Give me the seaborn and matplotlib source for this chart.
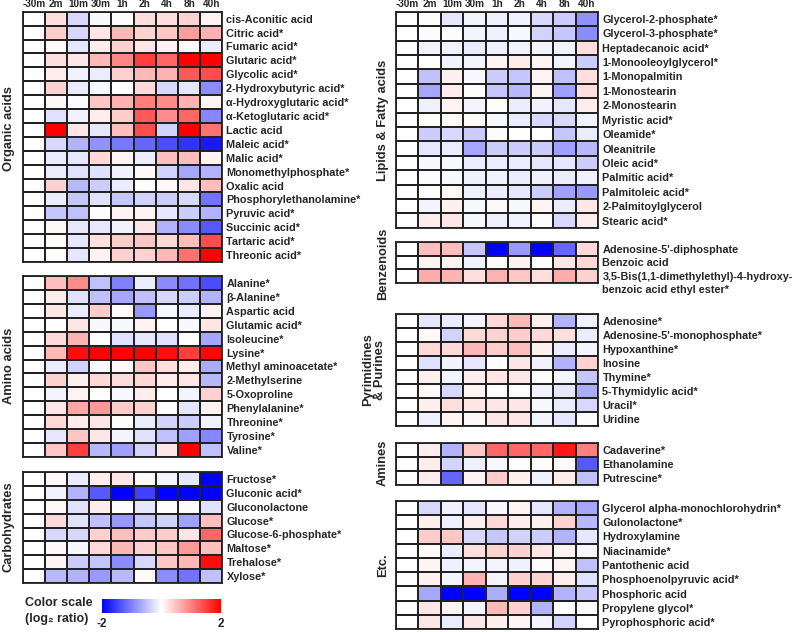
import numpy as np
import pandas as pd
import matplotlib
matplotlib.use("Agg")
import matplotlib.pyplot as plt
import seaborn as sns

# ------------------------------
# Data (log2 ratio vs -30m)
# ------------------------------
times = ["-30m", "2m", "10m", "30m", "1h", "2h", "4h", "8h", "40h"]

organic_names = ["cis-Aconitic acid", "Citric acid*", "Fumaric acid*", "Glutaric acid*", "Glycolic acid*",
                 "2-Hydroxybutyric acid*", "\u03b1-Hydroxyglutaric acid*", "\u03b1-Ketoglutaric acid*",
                 "Lactic acid", "Maleic acid*", "Malic acid*", "Monomethylphosphate*", "Oxalic acid",
                 "Phosphorylethanolamine*", "Pyruvic acid*", "Succinic acid*", "Tartaric acid*", "Threonic acid*"]
organic_vals = [
    [0, 0.25, -0.3, -0.05, 0.02, 0.25, 0.25, 0.35, 0.1],
    [0, 0.4, -0.3, 0.2, 0.55, 0.35, 0.45, 0.75, 0.6],
    [0, 0.05, -0.2, 0.15, 0.35, 0.2, 0.1, 0.05, -0.15],
    [0, 0.25, 0.2, 0.55, 0.95, 1.5, 1.2, 2.0, 2.0],
    [0, 0.15, -0.1, -0.15, 0.35, 0.55, 0.6, 1.3, 1.4],
    [0, 0.35, -0.15, -0.05, 0.0, 0.3, -0.3, -0.2, -0.9],
    [0, 0.05, -0.03, 0.45, 0.6, 1.0, 0.9, 0.6, 0.08],
    [0, -0.25, -0.1, 0.15, 0.4, 1.3, 0.9, 1.2, -0.95],
    [0, 2.0, 0.2, -0.2, 0.5, 1.4, -0.35, 2.0, 1.1],
    [0, -0.3, -0.6, -0.85, -1.05, -1.2, -1.4, -1.6, -1.8],
    [0, -0.15, -0.2, 0.3, 0.1, -0.15, 0.5, 0.5, 0.08],
    [0, -0.15, -0.25, -0.25, -0.1, 0.05, -0.35, -0.7, -0.6],
    [0, 0.35, -0.55, -0.4, -0.15, 0.02, 0.05, 0.2, 0.5],
    [0, -0.15, -0.45, -0.25, -0.45, -0.35, -0.4, -0.3, -1.1],
    [0, -0.45, -0.5, 0.02, 0.1, 0.1, -0.2, -0.4, -0.6],
    [0, 0.05, -0.2, -0.2, -0.1, 0.2, -0.6, -0.9, -1.3],
    [0, 0.02, -0.2, 0.25, 0.4, 0.45, 0.3, 0.5, 1.4],
    [0, 0.03, -0.2, 0.1, 0.35, 0.35, 0.55, 1.1, 2.0],
]

amino_names = ["Alanine*", "\u03b2-Alanine*", "Aspartic acid", "Glutamic acid*", "Isoleucine*", "Lysine*",
               "Methyl aminoacetate*", "2-Methylserine", "5-Oxoproline", "Phenylalanine*", "Threonine*",
               "Tyrosine*", "Valine*"]
amino_vals = [
    [0, 0.5, 0.9, -0.5, -1.0, -0.15, -0.9, -1.1, -1.4],
    [0, 0.15, -0.25, -0.5, -0.7, -0.5, -0.3, -0.4, -0.6],
    [0, 0.2, -0.15, 0.4, 0.05, -0.8, -0.05, -0.15, 0.1],
    [0, 0.0, 0.2, -0.05, -0.05, 0.1, 0.0, -0.05, 0.2],
    [0, 0.3, 0.6, 0.0, -0.25, -0.2, -0.25, 0.0, -0.7],
    [0, 0.55, 1.9, 2.0, 2.0, 2.0, 1.9, 1.5, 1.95],
    [0, -0.15, -0.35, -0.05, 0.05, 0.45, 0.25, 0.15, -0.65],
    [0, 0.35, 0.12, 0.3, 0.28, 0.3, 0.15, 0.2, -0.55],
    [0, -0.08, 0.1, 0.0, -0.05, 0.15, 0.0, -0.08, 0.35],
    [0, 0.2, 0.7, 0.8, 0.4, 0.35, 0.0, -0.2, 0.1],
    [0, 0.3, 0.15, 0.2, 0.02, -0.15, -0.35, -0.4, -0.1],
    [0, -0.2, 0.45, 0.2, -0.08, -0.25, -0.5, -0.75, -0.95],
    [0, 0.45, 1.5, -0.55, -0.75, -0.35, 0.2, 2.0, -0.5],
]

carb_names = ["Fructose*", "Gluconic acid*", "Gluconolactone", "Glucose*", "Glucose-6-phosphate*",
              "Maltose*", "Trehalose*", "Xylose*"]
carb_vals = [
    [0, 0.05, -0.15, 0.15, 0.2, 0.05, -0.08, -0.2, -2.0],
    [0, -0.1, -0.6, -1.3, -2.0, -1.5, -2.0, -2.0, -2.0],
    [0, 0.05, -0.25, 0.15, 0.0, -0.2, 0.0, -0.02, -0.25],
    [0, 0.3, -0.25, -0.5, -0.8, -0.45, -0.35, -0.75, 0.5],
    [0, -0.3, -0.3, 0.35, 0.5, 0.4, 0.4, 0.2, 1.2],
    [0, 0.05, -0.05, 0.3, 0.55, 0.35, 0.45, 0.8, 0.5],
    [0, 0.08, -0.4, -0.45, -0.9, -0.3, 0.45, 0.55, 1.9],
    [0, -0.55, -0.6, -0.8, -0.55, 0.05, -0.9, -1.1, -0.5],
]

lipid_names = ["Glycerol-2-phosphate*", "Glycerol-3-phosphate*", "Heptadecanoic acid*", "1-Monooleoylglycerol*",
               "1-Monopalmitin", "1-Monostearin", "2-Monostearin", "Myristic acid*", "Oleamide*", "Oleanitrile",
               "Oleic acid*", "Palmitic acid*", "Palmitoleic acid*", "2-Palmitoylglycerol", "Stearic acid*"]
lipid_vals = [
    [0, 0.02, -0.2, -0.08, -0.12, -0.1, -0.3, -0.4, -0.85],
    [0, -0.03, -0.03, -0.08, -0.12, -0.05, -0.35, -0.45, -0.9],
    [0, -0.08, -0.1, -0.15, -0.12, -0.08, -0.08, -0.1, 0.25],
    [0, 0.0, -0.1, -0.08, 0.08, 0.15, 0.08, -0.08, -0.4],
    [0, -0.5, 0.12, -0.05, -0.4, -0.45, 0.08, -0.5, 0.25],
    [0, -0.7, 0.15, 0.03, -0.45, -0.55, 0.08, -0.75, 0.25],
    [0, -0.12, 0.1, -0.08, 0.03, -0.15, -0.1, -0.2, 0.15],
    [0, 0.02, 0.05, 0.05, -0.05, -0.15, -0.3, -0.3, -0.1],
    [0, -0.4, -0.3, -0.4, -0.03, 0.0, 0.0, -0.45, -0.15],
    [0, -0.2, -0.15, -0.7, -0.4, -0.4, -0.4, -0.75, -0.55],
    [0, -0.05, -0.05, -0.15, -0.15, -0.15, -0.2, -0.2, -0.4],
    [0, -0.03, -0.05, -0.12, -0.1, -0.15, -0.12, -0.15, -0.12],
    [0, 0.03, 0.05, -0.12, -0.15, -0.2, -0.4, -0.75, -0.8],
    [0, -0.08, 0.12, -0.05, 0.05, -0.05, 0.08, -0.15, 0.2],
    [0, 0.15, 0.2, -0.05, -0.12, -0.1, -0.03, -0.3, 0.15],
]

benz_names = ["Adenosine-5'-diphosphate", "Benzoic acid", "3,5-Bis(1,1-dimethylethyl)-4-hydroxy-"]
benz_vals = [
    [0, 0.5, 0.5, -0.45, -2.0, -0.8, -2.0, -1.2, 0.3],
    [0, 0.1, 0.1, -0.1, 0.03, 0.1, -0.03, 0.2, 0.3],
    [0, 0.65, 0.6, 0.25, 0.6, 0.45, 0.25, 0.65, 0.35],
]

pyr_names = ["Adenosine*", "Adenosine-5'-monophosphate*", "Hypoxanthine*", "Inosine", "Thymine*",
             "5-Thymidylic acid*", "Uracil*", "Uridine"]
pyr_vals = [
    [0, -0.2, -0.15, -0.08, 0.3, 0.55, 0.12, -0.6, -0.1],
    [0, 0.05, -0.35, 0.3, 0.35, 0.4, 0.3, 0.25, -0.15],
    [0, 0.3, 0.3, 0.55, 0.4, 0.5, 0.12, -0.15, -0.08],
    [0, -0.25, -0.1, -0.2, 0.02, 0.2, -0.12, -0.6, 0.35],
    [0, 0.12, -0.08, 0.15, 0.2, 0.2, 0.03, -0.08, -0.45],
    [0, 0.05, -0.3, 0.08, 0.0, 0.0, -0.1, -0.2, -0.65],
    [0, 0.12, 0.25, 0.2, 0.2, 0.2, -0.05, -0.15, -0.3],
    [0, -0.12, 0.08, 0.05, 0.2, 0.2, -0.08, -0.2, -0.03],
]

amine_names = ["Cadaverine*", "Ethanolamine", "Putrescine*"]
amine_vals = [
    [0, 0.15, -0.6, 0.45, 1.2, 1.2, 1.2, 1.8, 1.0],
    [0, 0.15, -0.35, -0.12, -0.05, 0.0, 0.02, 0.05, -1.3],
    [0, 0.15, -1.2, 0.1, 0.4, 0.12, -0.1, 0.15, -0.5],
]

etc_names = ["Glycerol alpha-monochlorohydrin*", "Gulonolactone*", "Hydroxylamine", "Niacinamide*",
             "Pantothenic acid", "Phosphoenolpyruvic acid*", "Phosphoric acid", "Propylene glycol*",
             "Pyrophosphoric acid*"]
etc_vals = [
    [0, -0.3, -0.12, -0.2, -0.05, 0.08, -0.2, -0.6, -0.7],
    [0, 0.12, -0.12, 0.12, 0.3, 0.15, 0.12, 0.35, -0.55],
    [0, 0.4, 0.45, -0.3, -0.45, -0.35, -0.4, -0.6, -0.2],
    [0, 0.05, -0.15, 0.25, 0.35, 0.35, 0.2, 0.08, -0.05],
    [0, 0.08, -0.12, -0.08, -0.08, -0.12, -0.03, 0.08, -0.5],
    [0, 0.12, -0.08, 0.6, -0.08, 0.35, 0.35, 0.15, -0.25],
    [0, -0.7, -2.0, -2.0, -0.65, -2.0, -2.0, -0.6, -0.45],
    [0, 0.2, 0.08, -0.08, 0.55, 0.35, -0.6, 0.0, -0.02],
    [0, 0.2, -0.15, 0.2, 0.12, 0.08, -0.08, -0.35, 0.0],
]

# ------------------------------
# Figure setup
# ------------------------------
sns.set_style("white")
plt.rcParams["font.family"] = ["Liberation Sans", "DejaVu Sans"]
plt.rcParams["font.weight"] = "bold"

W, H = 794, 632
fig = plt.figure(figsize=(W / 100, H / 100), dpi=100)


def px_axes(x0, y0, x1, y1):
    return fig.add_axes([x0 / W, 1 - y1 / H, (x1 - x0) / W, (y1 - y0) / H])


def draw_block(box, names, vals, header=False):
    ax = px_axes(*box)
    df = pd.DataFrame(vals, index=names, columns=times)
    sns.heatmap(df, ax=ax, cmap="bwr", vmin=-2, vmax=2, cbar=False,
                linewidths=1.1, linecolor="#222222")
    ax.yaxis.tick_right()
    ax.set_yticks(np.arange(len(names)) + 0.5)
    ax.set_yticklabels(names, rotation=0, ha="left", fontsize=7.8, fontweight="bold")
    ax.tick_params(length=0, pad=3)
    if header:
        ax.xaxis.tick_top()
        ax.set_xticks(np.arange(len(times)) + 0.5)
        ax.set_xticklabels(times, rotation=0, fontsize=7.2, fontweight="bold")
        ax.tick_params(axis="x", pad=2)
    else:
        ax.set_xticks([])
    ax.set_xlabel("")
    ax.set_ylabel("")
    for s in ax.spines.values():
        s.set_visible(True)
        s.set_linewidth(1.3)
        s.set_color("#222222")
    return ax


LX0, LX1 = 22.7, 222.3
RX0, RX1 = 396, 598.3

draw_block((LX0, 11.7, LX1, 262), organic_names, organic_vals, header=True)
draw_block((LX0, 276, LX1, 457), amino_names, amino_vals)
draw_block((LX0, 471.7, LX1, 583.3), carb_names, carb_vals)

draw_block((RX0, 11.7, RX1, 227.7), lipid_names, lipid_vals, header=True)
ax_b = draw_block((RX0, 241.7, RX1, 283.3), benz_names, benz_vals)
ax_b.annotate("benzoic acid ethyl ester*", xy=(1, 3.5), xycoords=("axes fraction", "data"),
              xytext=(3, 0), textcoords="offset points", va="center", ha="left",
              fontsize=7.8, fontweight="bold", annotation_clip=False)
draw_block((RX0, 314.3, RX1, 426), pyr_names, pyr_vals)
draw_block((RX0, 443.3, RX1, 485), amine_names, amine_vals)
draw_block((RX0, 500.7, RX1, 629.3), etc_names, etc_vals)

# group labels
groups = [
    ("Organic acids", 9, 129),
    ("Amino acids", 9, 366),
    ("Carbohydrates", 9, 527),
    ("Lipids & Fatty acids", 383, 120),
    ("Benzenoids", 383, 264),
    ("Pyrimidines\n& Purines", 374, 370),
    ("Amines", 383, 463),
    ("Etc.", 383, 565),
]
for text, gx, gy in groups:
    fig.text(gx / W, 1 - gy / H, text, rotation=90, ha="center", va="center",
             fontsize=9.3, fontweight="bold", multialignment="center", linespacing=1.05)

# colour scale
cax = px_axes(101.7, 599, 221, 612.7)
sm = plt.cm.ScalarMappable(cmap="bwr", norm=plt.Normalize(-2, 2))
cb = fig.colorbar(sm, cax=cax, orientation="horizontal", ticks=[-2, 2])
cb.outline.set_visible(False)
cb.ax.set_xticklabels(["-2", "2"], fontsize=8.5, fontweight="bold")
cax.tick_params(length=0, pad=3.5)
fig.text(25 / W, 1 - 603.5 / H, "Color scale", ha="left", va="center", fontsize=9, fontweight="bold")
fig.text(25 / W, 1 - 619 / H, "(log\u2082 ratio)", ha="left", va="center", fontsize=9, fontweight="bold")

fig.savefig("out.png", dpi=100)
